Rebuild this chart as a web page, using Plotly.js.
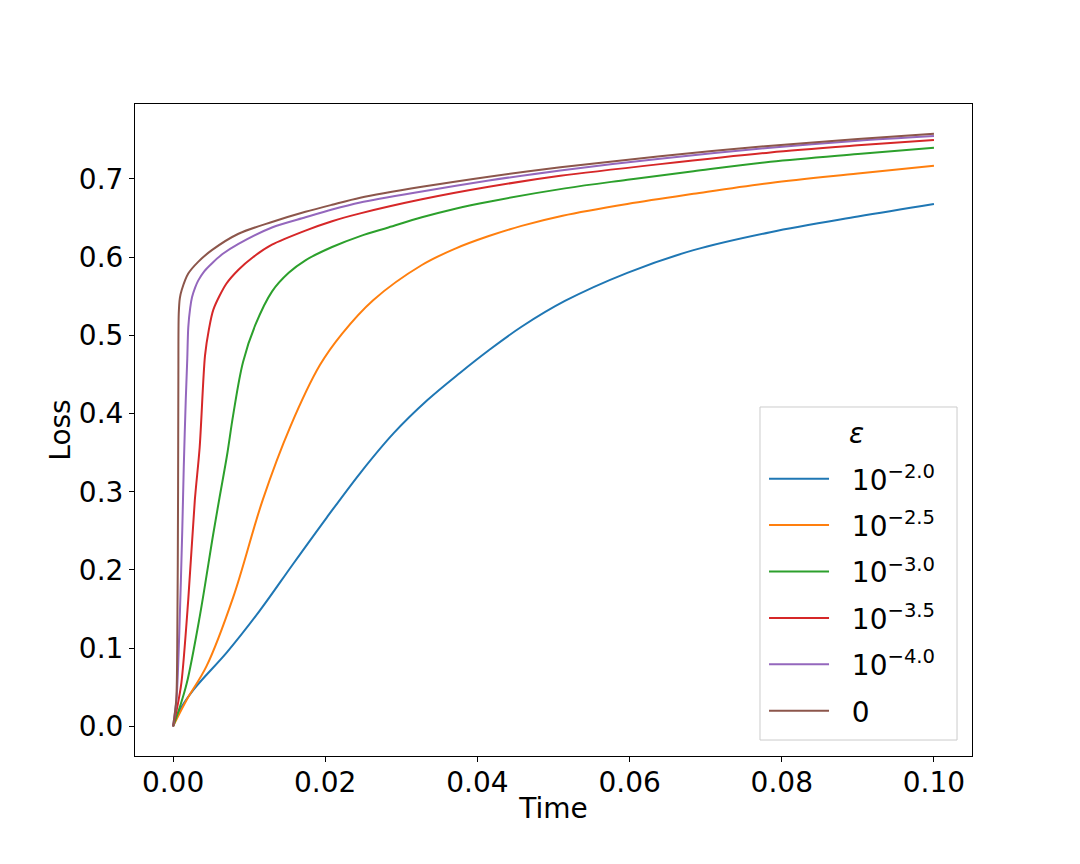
<!DOCTYPE html>
<html>
<head>
<meta charset="utf-8">
<script src="https://cdn.plot.ly/plotly-3.0.1.min.js"></script>
<style>html,body{margin:0;padding:0;background:#fff;}#chart{width:1080px;height:864px;}</style>
</head>
<body>
<div id="chart"></div>
<script>
// ε = 10^-2.0
const timeE20 = [0, 0.0009, 0.0027, 0.0071, 0.0114, 0.0158, 0.0202, 0.0246, 0.029, 0.0334, 0.0377, 0.0415, 0.0458, 0.0515, 0.0597, 0.0684, 0.0785, 0.09, 0.1];
const lossE20 = [0, 0.021, 0.047, 0.095, 0.148, 0.208, 0.267, 0.324, 0.375, 0.417, 0.452, 0.481, 0.511, 0.544, 0.580, 0.609, 0.632, 0.652, 0.668];
// ε = 10^-2.5
const timeE25 = [0, 0.0018, 0.0044, 0.0079, 0.0118, 0.0154, 0.0193, 0.0222, 0.0263, 0.0327, 0.0371, 0.0415, 0.0458, 0.0512, 0.0597, 0.0684, 0.0785, 0.09, 0.1];
const lossE25 = [0, 0.034, 0.077, 0.165, 0.290, 0.383, 0.462, 0.502, 0.545, 0.590, 0.611, 0.627, 0.640, 0.653, 0.668, 0.681, 0.695, 0.707, 0.717];
// ε = 10^-3.0
const timeE30 = [0, 0.0008, 0.0018, 0.0035, 0.0053, 0.0061, 0.0071, 0.0079, 0.0092, 0.0108, 0.013, 0.0152, 0.0174, 0.0209, 0.0246, 0.0283, 0.0327, 0.0371, 0.0415, 0.0515, 0.0597, 0.0684, 0.0785, 0.09, 0.1];
const lossE30 = [0, 0.022, 0.055, 0.140, 0.247, 0.292, 0.347, 0.398, 0.466, 0.513, 0.556, 0.580, 0.596, 0.613, 0.627, 0.638, 0.651, 0.662, 0.671, 0.688, 0.699, 0.710, 0.722, 0.732, 0.740];
// ε = 10^-3.5
const timeE35 = [0, 0.0005, 0.0011, 0.002, 0.00286, 0.0035, 0.0042, 0.0047, 0.0053, 0.007, 0.0086, 0.0105, 0.013, 0.0174, 0.0209, 0.0246, 0.0327, 0.0415, 0.0509, 0.064, 0.0785, 0.09, 0.1];
const lossE35 = [0, 0.022, 0.056, 0.162, 0.289, 0.357, 0.474, 0.507, 0.533, 0.566, 0.584, 0.600, 0.616, 0.634, 0.646, 0.656, 0.674, 0.690, 0.704, 0.719, 0.734, 0.743, 0.750];
// ε = 10^-4.0
const timeE40 = [0, 0.00045, 0.00082, 0.00121, 0.00141, 0.00167, 0.00187, 0.002, 0.00225, 0.0025, 0.0029, 0.0033, 0.0041, 0.0051, 0.0065, 0.0086, 0.013, 0.0174, 0.0209, 0.0246, 0.0327, 0.0415, 0.0509, 0.064, 0.0785, 0.09, 0.1];
const lossE40 = [0, 0.034, 0.119, 0.250, 0.332, 0.417, 0.470, 0.510, 0.535, 0.549, 0.561, 0.570, 0.582, 0.592, 0.604, 0.617, 0.638, 0.651, 0.661, 0.670, 0.684, 0.698, 0.711, 0.726, 0.740, 0.749, 0.755];
// ε = 0
const timeE0 = [0, 0.00042, 0.00055, 0.00066, 0.0007, 0.00075, 0.0009, 0.00114, 0.002, 0.0033, 0.0051, 0.0086, 0.013, 0.0174, 0.0209, 0.0246, 0.0327, 0.0415, 0.0509, 0.064, 0.0778, 0.09, 0.1];
const lossE0 = [0, 0.034, 0.100, 0.300, 0.450, 0.528, 0.548, 0.558, 0.579, 0.594, 0.609, 0.630, 0.645, 0.658, 0.667, 0.676, 0.690, 0.703, 0.715, 0.729, 0.742, 0.751, 0.758];

const seriesNames = ["10<sup>−2.0</sup>", "10<sup>−2.5</sup>", "10<sup>−3.0</sup>", "10<sup>−3.5</sup>", "10<sup>−4.0</sup>", "0"];
const legendTitle = "<i>ε</i>";
const seriesTimes = [timeE20, timeE25, timeE30, timeE35, timeE40, timeE0];
const seriesLoss = [lossE20, lossE25, lossE30, lossE35, lossE40, lossE0];
const colors = ["#1f77b4", "#ff7f0e", "#2ca02c", "#d62728", "#9467bd", "#8c564b"];
const smooth = [1.0, 1.0, 1.0, 0.8, 0.8, 0.8];

const xTicks = [0, 0.02, 0.04, 0.06, 0.08, 0.10];
const yTicks = [0, 0.1, 0.2, 0.3, 0.4, 0.5, 0.6, 0.7];

const FONT = "DejaVu Sans, sans-serif";
const PAD = "\u00a0\u00a0";

const traces = seriesNames.map((n, i) => ({
  x: seriesTimes[i],
  y: seriesLoss[i],
  name: PAD + n,
  legendgroup: "g" + i,
  type: "scatter",
  mode: "lines",
  line: {color: colors[i], width: 2, shape: "spline", smoothing: smooth[i]}
}));

const layout = {
  width: 1080,
  height: 864,
  paper_bgcolor: "#ffffff",
  plot_bgcolor: "#ffffff",
  margin: {l: 135, r: 108, t: 104, b: 108},
  font: {family: FONT, size: 28, color: "#000"},
  showlegend: true,
  xaxis: {
    range: [-0.005, 0.105],
    tickvals: xTicks,
    tickformat: ".2f",
    ticks: "outside",
    ticklen: 5,
    tickwidth: 1,
    tickcolor: "#000",
    ticklabelstandoff: -4,
    showline: true,
    mirror: true,
    linecolor: "#000",
    linewidth: 1,
    showgrid: false,
    zeroline: false,
    tickfont: {family: FONT, size: 28, color: "#000"},
    title: {text: "Time", font: {family: FONT, size: 28, color: "#000"}, standoff: 0}
  },
  yaxis: {
    range: [-0.0379, 0.7959],
    tickvals: yTicks,
    tickformat: ".1f",
    ticks: "outside",
    ticklen: 5,
    tickwidth: 1,
    tickcolor: "#000",
    showline: true,
    mirror: true,
    linecolor: "#000",
    linewidth: 1,
    showgrid: false,
    zeroline: false,
    tickfont: {family: FONT, size: 28, color: "#000"},
    title: {text: "Loss", font: {family: FONT, size: 28, color: "#000"}, standoff: 0}
  },
  shapes: [{
    type: "rect", xref: "paper", yref: "paper",
    x0: 0.7467, x1: 0.9821, y0: 0.0245, y1: 0.5353,
    line: {color: "#cccccc", width: 1},
    fillcolor: "rgba(255,255,255,0.8)",
    layer: "below"
  }],
  annotations: [{
    text: legendTitle, xref: "paper", yref: "paper",
    x: 0.8626, y: 0.4939, xanchor: "center", yanchor: "middle",
    showarrow: false,
    font: {family: FONT, size: 28, color: "#000"}
  }],
  legend: {
    x: 0.963,
    y: 0.0307,
    xanchor: "right",
    yanchor: "bottom",
    bgcolor: "rgba(0,0,0,0)",
    borderwidth: 0,
    traceorder: "grouped",
    tracegroupgap: 7,
    font: {family: FONT, size: 28, color: "#000"},
    itemwidth: 60
  }
};

Plotly.newPlot("chart", traces, layout, {staticPlot: true, displayModeBar: false});
</script>
</body>
</html>
